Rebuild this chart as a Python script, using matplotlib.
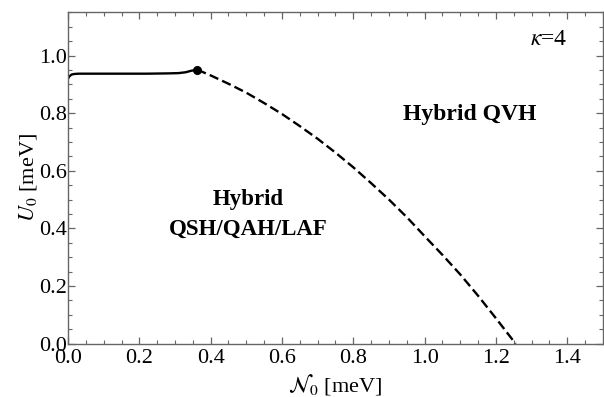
import matplotlib
matplotlib.use("Agg")
import matplotlib.pyplot as plt
from matplotlib.ticker import MultipleLocator

plt.rcParams['font.family'] = ['Liberation Serif', 'DejaVu Serif']
plt.rcParams['mathtext.fontset'] = 'stix'

# first-order boundary (solid) up to the critical point
solid_x = [0.0, 0.004, 0.010, 0.018, 0.03, 0.08, 0.15, 0.22, 0.28, 0.31, 0.33, 0.345, 0.362]
solid_y = [0.920, 0.928, 0.934, 0.936, 0.937, 0.937, 0.937, 0.937, 0.938, 0.939, 0.942, 0.947, 0.951]

# dashed boundary from the critical point down to the x axis
dash_x = [0.362, 0.40, 0.45, 0.50, 0.55, 0.60, 0.65, 0.70, 0.75, 0.80,
          0.85, 0.90, 0.95, 1.00, 1.05, 1.10, 1.15, 1.20, 1.255]
dash_y = [0.951, 0.931, 0.902, 0.871, 0.835, 0.797, 0.755, 0.711, 0.663, 0.612,
          0.557, 0.500, 0.439, 0.373, 0.308, 0.240, 0.166, 0.088, 0.0]

crit_x, crit_y = 0.362, 0.951

fig = plt.figure(figsize=(6.04, 3.97), dpi=100)
ax = fig.add_axes([0.1126, 0.1343, 0.8857, 0.8347])

ax.plot(solid_x, solid_y, color='black', lw=1.7)
ax.plot(dash_x, dash_y, color='black', lw=1.7, dashes=(4.0, 1.8))
ax.plot([crit_x], [crit_y], 'o', color='black', ms=5.5)

ax.set_xlim(0, 1.5)
ax.set_ylim(0, 1.15)
ax.xaxis.set_major_locator(MultipleLocator(0.2))
ax.xaxis.set_minor_locator(MultipleLocator(0.05))
ax.yaxis.set_major_locator(MultipleLocator(0.2))
ax.yaxis.set_minor_locator(MultipleLocator(0.05))
ax.xaxis.set_major_formatter(lambda v, p: f"{v:.1f}")
ax.yaxis.set_major_formatter(lambda v, p: f"{v:.1f}")

for s in ax.spines.values():
    s.set_color('0.4')
    s.set_linewidth(1.0)
ax.tick_params(which='both', direction='in', top=True, right=True, color='0.4', labelsize=16)
ax.tick_params(which='major', length=5, width=0.9)
ax.tick_params(which='minor', length=3, width=0.8)
ax.tick_params(axis='x', pad=4)
ax.tick_params(axis='y', pad=1)

ax.set_xlabel(r'$\mathcal{N}_0$ [meV]', fontsize=16, labelpad=3)
ax.set_ylabel(r'$U_0$ [meV]', fontsize=16, labelpad=0)

ax.text(1.125, 0.794, 'Hybrid QVH', fontsize=17, fontweight='bold', ha='center', va='center')
ax.text(0.505, 0.45, 'Hybrid\nQSH/QAH/LAF', fontsize=16.5, fontweight='bold',
        ha='center', va='center', linespacing=1.55)
ax.text(1.40, 1.056, r'$\kappa$=4', fontsize=17, ha='right', va='center')

fig.savefig('out.png', dpi=100)
